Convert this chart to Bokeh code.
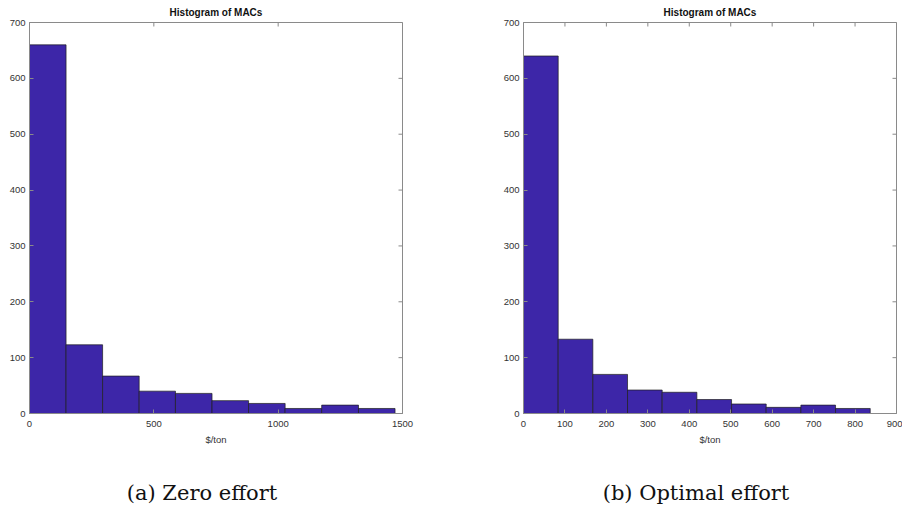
import math
from bokeh.plotting import figure
from bokeh.models import Range1d, FixedTicker
from bokeh.core.properties import value
from bokeh.layouts import row, column
from bokeh.embed import file_html
from bokeh.resources import INLINE

# ---- data ----
zero_edges = [0, 147, 294, 441, 587, 734, 881, 1028, 1175, 1323, 1470]
zero_counts = [660, 123, 67, 40, 36, 23, 18, 9, 15, 9]
opt_edges = [0, 83.7, 167.3, 251, 334.6, 418.3, 502, 585.6, 669.3, 752.9, 836.6]
opt_counts = [640, 133, 70, 42, 38, 25, 17, 11, 15, 9]

zero_xticks = [0, 500, 1000, 1500]
opt_xticks = [0, 100, 200, 300, 400, 500, 600, 700, 800, 900]
yticks = [0, 100, 200, 300, 400, 500, 600, 700]
zero_xmax = 1500
opt_xmax = 900
ymax = 700

title_text = "Histogram of MACs"
xlabel_text = "$/ton"
captions = ["(a) Zero effort", "(b) Optimal effort"]

BAR_COLOR = "#3D26A8"
FRAME_COLOR = "#8a8a8a"
TEXT_COLOR = "#333333"
SANS = "'Liberation Sans Narrow', 'Liberation Sans', sans-serif"
SERIF = "DejaVu Serif"
FRAME_W, FRAME_H = 373, 391
LEFT_B, TOP_B, BOTTOM_B = 29, 22, 42
CAP_H = 50


def style_axis(ax, ticks):
    ax.ticker = FixedTicker(ticks=ticks)
    ax.minor_tick_line_color = None
    ax.major_tick_in = 4
    ax.major_tick_out = 0
    ax.axis_line_color = FRAME_COLOR
    ax.major_tick_line_color = FRAME_COLOR
    ax.major_label_text_font = SANS
    ax.major_label_text_color = TEXT_COLOR
    ax.major_label_text_font_size = "9.5px"


def make_panel(edges, counts, xmax, xticks, right_border):
    p = figure(
        output_backend="svg", toolbar_location=None,
        frame_width=FRAME_W, frame_height=FRAME_H,
        x_range=Range1d(0, xmax), y_range=Range1d(0, ymax),
        min_border_left=LEFT_B, min_border_right=right_border,
        min_border_top=TOP_B, min_border_bottom=BOTTOM_B,
        background_fill_color="white", border_fill_color="white",
    )
    p.outline_line_color = FRAME_COLOR
    p.grid.visible = False

    p.title.text = title_text
    p.title.align = "center"
    p.title.text_font = SANS
    p.title.text_font_size = "10px"
    p.title.text_font_style = "bold"
    p.title.text_color = "#111111"
    p.title.standoff = 9

    p.quad(left=edges[:-1], right=edges[1:], top=counts, bottom=0,
           fill_color=BAR_COLOR, line_color="#1e1e1e", line_width=0.7)

    # inward ticks on the top and right edges of the box
    p.scatter(x=[xmax] * len(yticks), y=yticks, marker="dash", size=8,
              line_color=FRAME_COLOR, line_width=1)
    p.scatter(x=xticks, y=[ymax] * len(xticks), marker="dash", size=8,
              angle=math.pi / 2, line_color=FRAME_COLOR, line_width=1)

    style_axis(p.xaxis[0], xticks)
    style_axis(p.yaxis[0], yticks)
    p.xaxis[0].major_label_standoff = 7
    p.yaxis[0].major_label_standoff = 4
    p.xaxis[0].axis_label = xlabel_text
    p.xaxis[0].axis_label_text_font = SANS
    p.xaxis[0].axis_label_text_font_size = "9.5px"
    p.xaxis[0].axis_label_text_font_style = "normal"
    p.xaxis[0].axis_label_text_color = TEXT_COLOR
    p.xaxis[0].axis_label_standoff = 4
    return p


def make_caption(text, width):
    c = figure(
        output_backend="svg", toolbar_location=None,
        width=width, height=CAP_H,
        x_range=Range1d(0, width), y_range=Range1d(0, CAP_H),
        min_border=0, outline_line_color=None,
        background_fill_color="white", border_fill_color="white",
    )
    c.axis.visible = False
    c.grid.visible = False
    c.text(x=[LEFT_B + FRAME_W / 2 - 14], y=[CAP_H - 37], text=[text],
           text_align="center", text_baseline="middle",
           text_font=value(SERIF), text_font_size=value("21px"),
           text_color="#111111")
    return c


W1 = LEFT_B + FRAME_W + 92
W2 = LEFT_B + FRAME_W + 6
p1 = make_panel(zero_edges, zero_counts, zero_xmax, zero_xticks, 92)
p2 = make_panel(opt_edges, opt_counts, opt_xmax, opt_xticks, 6)
c1 = make_caption(captions[0], W1)
c2 = make_caption(captions[1], W2)

layout = column(row(p1, p2), row(c1, c2))
open("out.html", "w").write(file_html(layout, INLINE))
